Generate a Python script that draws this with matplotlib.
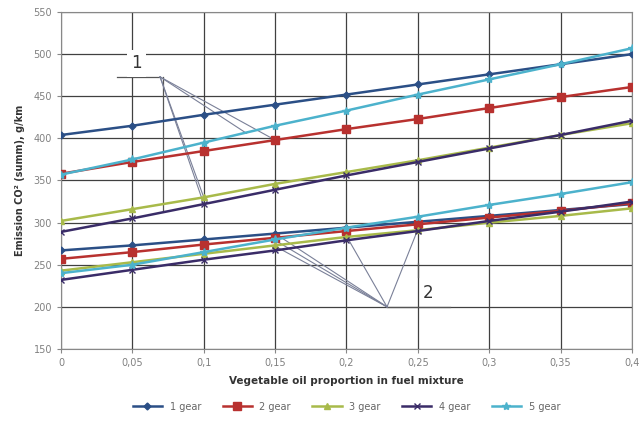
import matplotlib
import matplotlib.pyplot as plt

matplotlib.use("Agg")

# Vegetable oil share in the fuel mixture
x_values = [0, 0.05, 0.1, 0.15, 0.2, 0.25, 0.3, 0.35, 0.4]
x_labels = ["0", "0,05", "0,1", "0,15", "0,2", "0,25", "0,3", "0,35", "0,4"]

gears = ["1 gear", "2 gear", "3 gear", "4 gear", "5 gear"]

# Group 1 (upper curves)
upper_1 = [404, 415, 428, 440, 452, 464, 476, 488, 500]
upper_2 = [358, 372, 385, 398, 411, 423, 436, 449, 461]
upper_3 = [302, 316, 330, 346, 360, 374, 389, 404, 418]
upper_4 = [289, 305, 322, 339, 356, 372, 388, 404, 421]
upper_5 = [357, 375, 395, 415, 433, 452, 470, 488, 507]

# Group 2 (lower curves)
lower_1 = [267, 273, 280, 287, 294, 301, 308, 315, 322]
lower_2 = [257, 265, 274, 282, 290, 298, 306, 314, 323]
lower_3 = [243, 253, 263, 273, 283, 291, 300, 308, 317]
lower_4 = [232, 244, 256, 267, 279, 290, 302, 313, 325]
lower_5 = [240, 250, 265, 280, 294, 307, 321, 334, 348]

upper = [upper_1, upper_2, upper_3, upper_4, upper_5]
lower = [lower_1, lower_2, lower_3, lower_4, lower_5]

colors = ["#2B4F86", "#B8312F", "#A8BA4A", "#3A2C68", "#4CB2CC"]
markers = ["D", "s", "^", "x", "*"]
msizes = [3.5, 5.5, 4.5, 5, 6]

fig = plt.figure(figsize=(6.39, 4.38), dpi=100)
ax = fig.add_axes([0.0955, 0.2032, 0.8935, 0.7694])

for name, up, lo, c, m, ms in zip(gears, upper, lower, colors, markers, msizes):
    ax.plot(x_values, up, color=c, lw=1.8, marker=m, ms=ms, mfc=c, mec=c,
            label=name, zorder=3)
    ax.plot(x_values, lo, color=c, lw=1.8, marker=m, ms=ms, mfc=c, mec=c,
            zorder=3)

# leader lines for group labels
lc = "#7A8098"
ax.plot([0.039, 0.0694], [473, 473], color="#555555", lw=0.9, zorder=2)
ax.plot([0.0715, 0.0715], [473, 315], color="#555555", lw=0.9, zorder=2)
for tx, ty in [(0.15, 398), (0.13, 406), (0.1, 330), (0.1, 322)]:
    ax.plot([0.0694, tx], [473, ty], color=lc, lw=0.8, zorder=2)
ax.text(0.053, 489, "1", fontsize=12, color="#333333", ha="center", va="center",
        bbox=dict(facecolor="white", edgecolor="none", pad=3), zorder=2.5)

ax.plot([0.2284, 0.2725], [200, 200], color="#555555", lw=0.9, zorder=2)
ax.plot([0.25, 0.25], [252, 235], color="#555555", lw=0.9, zorder=2)
for tx, ty in [(0.15, 287), (0.15, 279), (0.15, 272), (0.2, 284), (0.25, 292)]:
    ax.plot([0.2284, tx], [200, ty], color=lc, lw=0.8, zorder=2)
ax.text(0.257, 216, "2", fontsize=12, color="#333333", ha="center", va="center",
        bbox=dict(facecolor="white", edgecolor="none", pad=2), zorder=2.5)

ax.set_xlim(0, 0.4)
ax.set_ylim(150, 550)
ax.set_xticks(x_values)
ax.set_xticklabels(x_labels)
ax.set_yticks(range(150, 551, 50))
ax.grid(True, color="#404040", lw=0.9)
ax.set_axisbelow(True)
ax.tick_params(labelsize=7, colors="#888888", length=3, labelcolor="#808080")
for s in ax.spines.values():
    s.set_color("#888888")

ax.set_xlabel("Vegetable oil proportion in fuel mixture", fontsize=7.5,
              fontweight="bold", color="#333333", labelpad=6)
ax.set_ylabel("Emission CO² (summ), g/km", fontsize=7, fontweight="bold",
              color="#333333", labelpad=6)

ax.legend(loc="upper center", bbox_to_anchor=(0.5, -0.13), ncol=5, frameon=False,
          fontsize=7, handlelength=3, columnspacing=2.2, labelcolor="#666666")

fig.savefig("out.png", dpi=100)
